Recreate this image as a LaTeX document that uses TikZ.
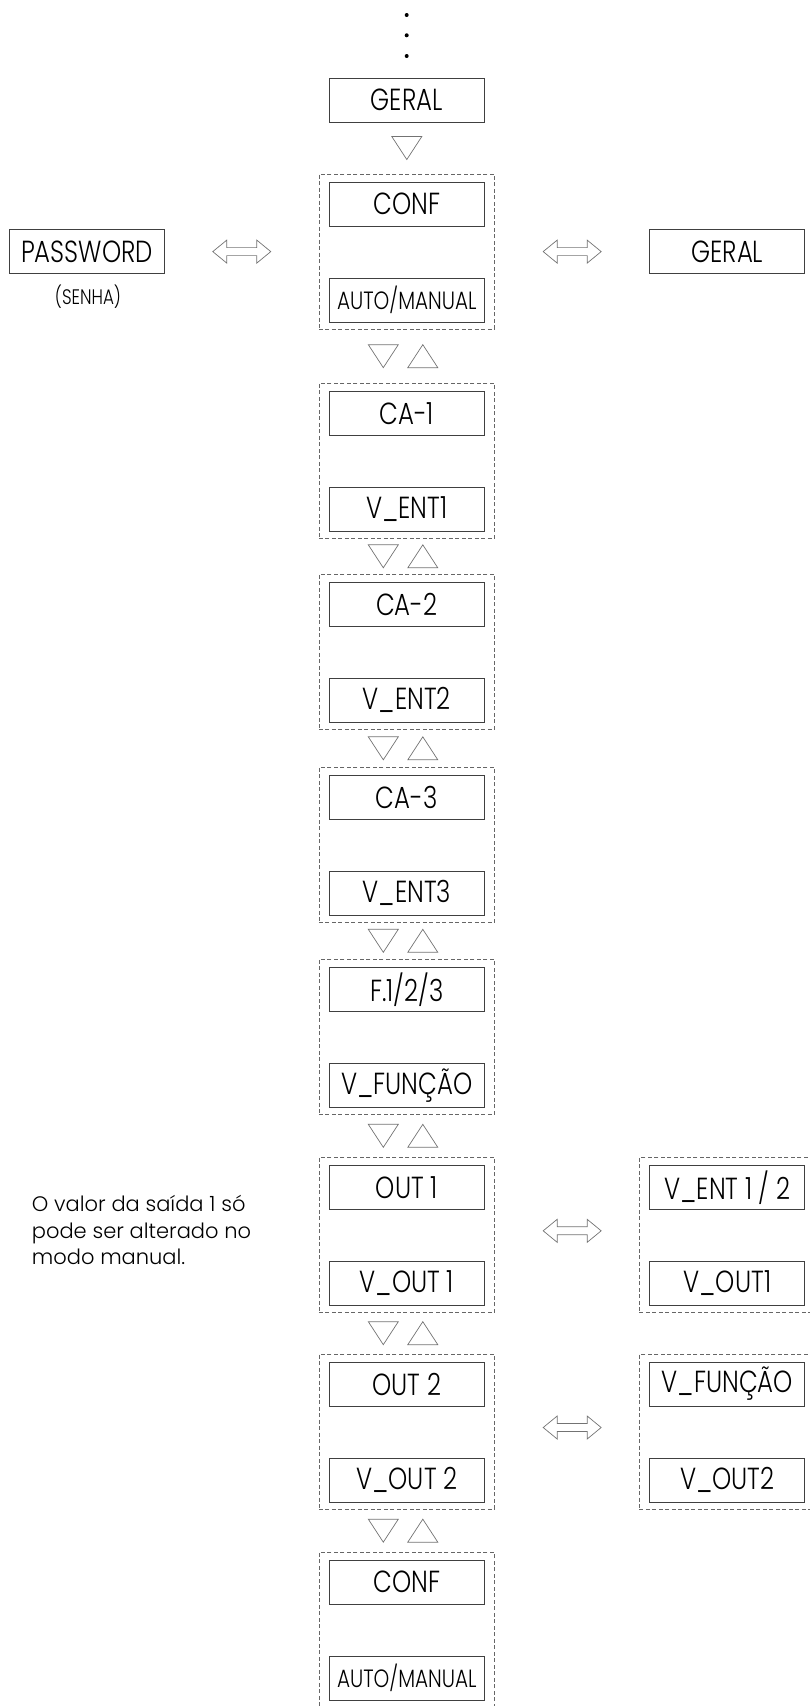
\documentclass[tikz,border=0pt]{standalone}
\usepackage{fontspec}
\setmainfont{Poppins}[UprightFont=* Light, FakeStretch=0.8]
\newfontfamily\notefam{Poppins}[UprightFont=* Light]
\usetikzlibrary{calc}
\newcommand\lblfont{\fontsize{30.5}{33}\selectfont}
\newcommand\smlfont{\fontsize{25}{27}\selectfont}
\newcommand\senhafont{\fontsize{21}{24}\selectfont}
\newcommand\notefont{\notefam\fontsize{21}{26.7}\selectfont}
\tikzset{
  box/.style={draw=black!75, line width=0.9pt, minimum width=155pt, minimum height=44pt, inner sep=0pt, font=\lblfont, text=black},
  grpbox/.style={draw=black!60, dash pattern=on 4pt off 2.5pt, line width=0.7pt, minimum width=175.7pt, minimum height=155pt, inner sep=0pt},
  tri/.style={draw=black!55, line width=0.7pt, line join=miter},
  dbl/.style={draw=black!55, line width=0.7pt, line join=miter},
  downtri/.pic={\draw[tri] (-15,-11.5) -- (15,-11.5) -- (0,11.5) -- cycle;},
  uptri/.pic={\draw[tri] (-15,11.5) -- (15,11.5) -- (0,-11.5) -- cycle;},
  dblarrow/.pic={\draw[dbl] (-29,0) -- (-15,-11.5) -- (-15,-4) -- (15,-4) -- (15,-11.5) -- (29,0) -- (15,11.5) -- (15,4) -- (-15,4) -- (-15,11.5) -- cycle;},
}
\newcommand\grp[5]{%
  \node[grpbox] (#1) at (#2,#3+77.5) {};
  \node[box] (#1a) at (#2,#3+30) {#4};
  \node[box] (#1b) at (#2,#3+126) {#5};}
\newcommand\tripair[3]{%
  \coordinate (#3) at ($(#1.south)!0.5!(#2.north)$);
  \pic at ([xshift=-23.5pt]#3) {downtri};
  \pic at ([xshift=16pt]#3) {uptri};}
\begin{document}
\begin{tikzpicture}[x=1pt,y=-1pt]
\path[use as bounding box] (0,0) rectangle (810,1706);
\clip (0,0) rectangle (810,1706);
% dots
\foreach \yy in {15,35.3,56} \fill (406.7,\yy) circle (2pt);
% top
\node[box] (geral) at (406.8,100) {GERAL};
\grp{g0}{406.8}{174}{CONF}{\smlfont AUTO/MANUAL}
\node[box] (pw) at (87,251.7) {PASSWORD};
\node[font=\senhafont] (senha) at (88,296.7) {(SENHA)};
\node[box] (geral2) at (727.3,251.7) {GERAL};
\coordinate (t0) at ($(geral.south)!0.5!(g0.north)$);
\pic at (t0) {downtri};
\pic at ($(pw.east)!0.5!(g0.west)$) {dblarrow};
\pic at ($(g0.east)!0.5!(geral2.west)$) {dblarrow};
% main column
\grp{g1}{406.8}{383.3}{CA-1}{V\_ENT1}
\grp{g2}{406.8}{574.3}{CA-2}{V\_ENT2}
\grp{g3}{406.8}{767.3}{CA-3}{V\_ENT3}
\grp{g4}{406.8}{959.3}{F.1/2/3}{V\_FUNÇÃO}
\grp{g5}{406.8}{1157.3}{OUT 1}{V\_OUT 1}
\grp{g6}{406.8}{1354}{OUT 2}{V\_OUT 2}
\grp{g7}{406.8}{1552.3}{CONF}{\smlfont AUTO/MANUAL}
\tripair{g0}{g1}{m01}
\tripair{g1}{g2}{m12}
\tripair{g2}{g3}{m23}
\tripair{g3}{g4}{m34}
\tripair{g4}{g5}{m45}
\tripair{g5}{g6}{m56}
\tripair{g6}{g7}{m67}
% right column
\grp{r5}{727.3}{1157.3}{V\_ENT 1 / 2}{V\_OUT1}
\grp{r6}{727.3}{1354}{V\_FUNÇÃO}{V\_OUT2}
\pic at ([yshift=4pt]$(g5.east)!0.5!(r5a.west|-g5.east)$) {dblarrow};
\pic at ([yshift=4pt]$(g6.east)!0.5!(r6a.west|-g6.east)$) {dblarrow};
% note
\node[font=\notefont, align=left, anchor=north west, inner sep=0pt] (note) at (31.7,1195) {O valor da saída 1 só\\pode ser alterado no\\modo manual.};
\end{tikzpicture}
\end{document}
